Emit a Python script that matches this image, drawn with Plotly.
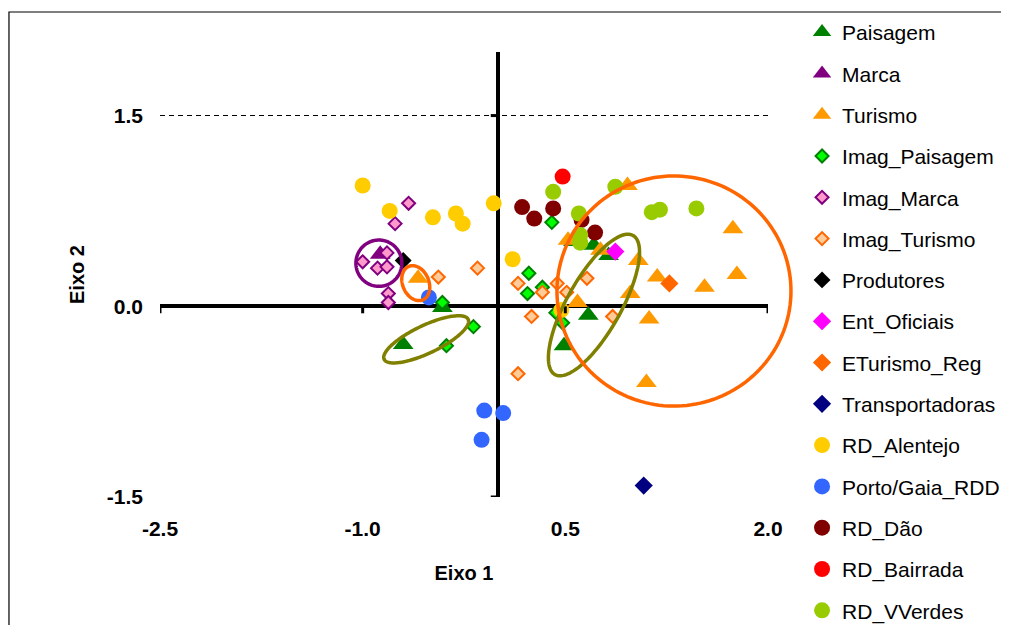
import numpy as np
import plotly.graph_objects as go

# ---------------- data ----------------
paisagem_x = [-0.70, -0.41, 0.49, 0.67, 0.82, 0.71, 0.56]
paisagem_y = [-0.30, -0.01, -0.31, -0.07, 0.40, 0.48, 0.51]

marca_x = [-0.87]
marca_y = [0.41]

turismo_x = [-0.59, 0.96, 1.74, 1.77, 1.53, 1.18, 1.04, 0.98, 1.12, 1.10, 0.76, 0.59, 0.52]
turismo_y = [0.22, 0.95, 0.61, 0.25, 0.15, 0.23, 0.36, 0.10, -0.10, -0.60, 0.44, 0.03, 0.52]

imag_paisagem_x = [-0.41, -0.18, -0.38, 0.23, 0.22, 0.40, 0.33, 0.48, 0.43]
imag_paisagem_y = [0.03, -0.16, -0.31, 0.26, 0.10, 0.66, 0.15, -0.13, -0.05]

imag_marca_x = [-0.66, -0.76, -0.82, -1.00, -0.89, -0.82, -0.81, -0.81]
imag_marca_y = [0.81, 0.65, 0.42, 0.35, 0.30, 0.31, 0.10, 0.03]

imag_turismo_x = [-0.15, -0.44, 0.15, 0.33, 0.44, 0.51, 0.66, 0.25, 0.85, 0.15]
imag_turismo_y = [0.30, 0.23, 0.18, 0.11, 0.18, 0.11, 0.22, -0.08, -0.08, -0.53]

produtores_x = [-0.70]
produtores_y = [0.36]

ent_oficiais_x = [0.87]
ent_oficiais_y = [0.43]

eturismo_reg_x = [1.27]
eturismo_reg_y = [0.18]

transportadoras_x = [1.08]
transportadoras_y = [-1.41]

rd_alentejo_x = [-1.00, -0.80, -0.48, -0.31, -0.26, -0.03, 0.11, 0.47]
rd_alentejo_y = [0.95, 0.75, 0.70, 0.73, 0.65, 0.81, 0.37, -0.03]

porto_gaia_x = [-0.51, -0.10, 0.04, -0.12]
porto_gaia_y = [0.07, -0.82, -0.84, -1.05]

rd_dao_x = [0.18, 0.27, 0.41, 0.62, 0.72]
rd_dao_y = [0.78, 0.69, 0.77, 0.68, 0.58]

rd_bairrada_x = [0.48]
rd_bairrada_y = [1.02]

rd_vverdes_x = [0.41, 0.60, 0.61, 0.61, 0.87, 1.14, 1.20, 1.47]
rd_vverdes_y = [0.90, 0.73, 0.56, 0.50, 0.94, 0.74, 0.76, 0.77]

x_range = [-2.5, 2.0]
y_range = [-1.5, 2.0]
x_ticks = [-2.5, -1.0, 0.5, 2.0]
y_ticks = [-1.5, 0.0, 1.5]
x_tick_labels = ["-2.5", "-1.0", "0.5", "2.0"]
y_tick_labels = ["-1.5", "0.0", "1.5"]

# group ellipses drawn on the chart: centre and two conjugate semi-axis vectors (data units)
ell_cx = [-0.880, -0.607, -0.530, 0.712, 1.304]
ell_cy = [0.339, 0.182, -0.260, 0.010, 0.120]
ell_ux = [0.170, 0.053, 0.311, 0.289, 0.866]
ell_uy = [0.000, -0.131, 0.157, 0.547, 0.000]
ell_vx = [0.000, 0.089, 0.044, 0.174, 0.000]
ell_vy = [0.182, 0.041, -0.099, -0.104, 0.905]
ell_color = ["#800080", "#FF6600", "#808000", "#808000", "#FF6600"]

# ---------------- figure ----------------
series = [
    ("Paisagem", paisagem_x, paisagem_y, "triangle-up", 18, "#008000", "#008000", 0),
    ("Marca", marca_x, marca_y, "triangle-up", 18, "#800080", "#800080", 0),
    ("Turismo", turismo_x, turismo_y, "triangle-up", 18, "#FF9900", "#FF9900", 0),
    ("Imag_Paisagem", imag_paisagem_x, imag_paisagem_y, "diamond", 10, "#00FF00", "#008000", 2),
    ("Imag_Marca", imag_marca_x, imag_marca_y, "diamond", 10, "#FF99CC", "#800080", 2),
    ("Imag_Turismo", imag_turismo_x, imag_turismo_y, "diamond", 10, "#FFCC99", "#FF6600", 2),
    ("Produtores", produtores_x, produtores_y, "diamond", 13, "#000000", "#000000", 0),
    ("Ent_Oficiais", ent_oficiais_x, ent_oficiais_y, "diamond", 14, "#FF00FF", "#FF00FF", 0),
    ("ETurismo_Reg", eturismo_reg_x, eturismo_reg_y, "diamond", 14, "#FF6600", "#FF6600", 0),
    ("Transportadoras", transportadoras_x, transportadoras_y, "diamond", 14, "#000080", "#000080", 0),
    ("RD_Alentejo", rd_alentejo_x, rd_alentejo_y, "circle", 16, "#FFCC00", "#FFCC00", 0),
    ("Porto/Gaia_RDD", porto_gaia_x, porto_gaia_y, "circle", 16, "#3366FF", "#3366FF", 0),
    ("RD_Dão", rd_dao_x, rd_dao_y, "circle", 16, "#800000", "#800000", 0),
    ("RD_Bairrada", rd_bairrada_x, rd_bairrada_y, "circle", 16, "#FF0000", "#FF0000", 0),
    ("RD_VVerdes", rd_vverdes_x, rd_vverdes_y, "circle", 16, "#99CC00", "#99CC00", 0),
]

fig = go.Figure()
for name, xs, ys, sym, size, fill, edge, lw in series:
    fig.add_trace(go.Scatter(
        x=xs, y=ys, mode="markers", name=name, legendgroup=name,
        marker=dict(symbol=sym, size=size, color=fill, line=dict(color=edge, width=lw)),
    ))

shapes = []
# chart outer border
shapes.append(dict(type="rect", xref="paper", yref="paper", x0=-0.2484, x1=1.6, y0=-0.6, y1=1.0899,
                   line=dict(color="black", width=1.2), fillcolor="rgba(0,0,0,0)", layer="below"))
# tick marks at the axis crossing
for xv in x_ticks:
    shapes.append(dict(type="line", xref="x", yref="y", ysizemode="pixel", yanchor=0,
                       x0=xv, x1=xv, y0=0, y1=-7, line=dict(color="black", width=3)))
for yv in y_ticks:
    shapes.append(dict(type="line", xref="x", yref="y", xsizemode="pixel", xanchor=0,
                       y0=yv, y1=yv, x0=0, x1=-7, line=dict(color="black", width=3)))

# ellipses as paper-referenced paths (so they are not clipped at the plot edge)
t = np.linspace(0, 2 * np.pi, 160)
xspan = x_range[1] - x_range[0]
yspan = y_range[1] - y_range[0]
for cx, cy, ux, uy, vx, vy, col in zip(ell_cx, ell_cy, ell_ux, ell_uy, ell_vx, ell_vy, ell_color):
    ex = cx + ux * np.cos(t) + vx * np.sin(t)
    ey = cy + uy * np.cos(t) + vy * np.sin(t)
    px = (ex - x_range[0]) / xspan
    py = (ey - y_range[0]) / yspan
    path = "M" + " L".join(f"{a:.5f},{b:.5f}" for a, b in zip(px, py)) + " Z"
    shapes.append(dict(type="path", xref="paper", yref="paper", path=path,
                       line=dict(color=col, width=3.5), layer="above"))

fig.update_layout(
    width=1001, height=617,
    margin=dict(l=152, r=241, t=44, b=128, autoexpand=False),
    paper_bgcolor="white", plot_bgcolor="white",
    font=dict(family="Liberation Sans, Arial, sans-serif", color="black"),
    shapes=shapes,
    legend=dict(x=1.056, xanchor="left", y=1.09, yanchor="top", maxheight=700,
                font=dict(size=21, family="Liberation Sans, Arial, sans-serif"),
                tracegroupgap=11, bgcolor="rgba(0,0,0,0)", itemclick=False),
    xaxis=dict(range=x_range, tickvals=x_ticks, ticktext=x_tick_labels, showgrid=False,
               zeroline=True, zerolinecolor="black", zerolinewidth=3.5, showline=False,
               ticks="", ticklabelstandoff=17, automargin=False,
               tickfont=dict(size=21, family="Liberation Sans, Arial, sans-serif", weight="bold"),
               title=dict(text="<b>Eixo 1</b>", font=dict(size=20), standoff=26)),
    yaxis=dict(range=y_range, tickvals=y_ticks, ticktext=y_tick_labels, showgrid=True,
               gridcolor="black", gridwidth=1, griddash="5px,4px",
               zeroline=True, zerolinecolor="black", zerolinewidth=3.5, showline=False,
               ticks="", ticklabelstandoff=16, automargin=False,
               tickfont=dict(size=21, family="Liberation Sans, Arial, sans-serif", weight="bold"),
               title=dict(text="<b>Eixo 2</b>", font=dict(size=20), standoff=16)),
)

fig.write_html("out.html")
